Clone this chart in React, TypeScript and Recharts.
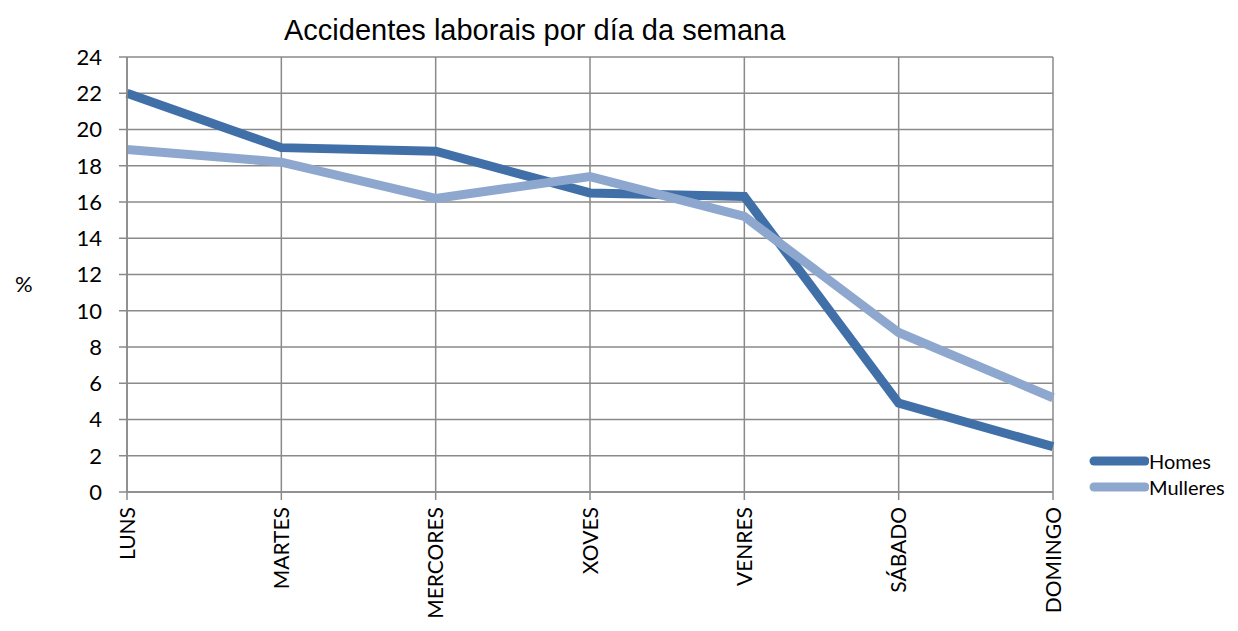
import React from 'react';
import { LineChart, Line, XAxis, YAxis, CartesianGrid, Legend } from 'recharts';

// Días da semana (eixo X)
const days = ['LUNS', 'MARTES', 'MERCORES', 'XOVES', 'VENRES', 'SÁBADO', 'DOMINGO'];
// Porcentaxe de accidentes por sexo
const homes = [22.0, 19.0, 18.8, 16.5, 16.3, 4.9, 2.5];
const mulleres = [18.9, 18.2, 16.2, 17.4, 15.2, 8.8, 5.2];
const yTicks = [0, 2, 4, 6, 8, 10, 12, 14, 16, 18, 20, 22, 24];

const seriesInfo = [
    { key: 'Homes', color: '#4170A8' },
    { key: 'Mulleres', color: '#8EA7CE' },
];

const chartData = days.map((day, i) => ({ day, Homes: homes[i], Mulleres: mulleres[i] }));

const labelFont = 'Lato, "Noto Sans", sans-serif';

const RotatedTick = (props: any) => {
    const { x, y, payload } = props;
    return (
        <g transform={`translate(${x},${y})`}>
            <text transform="rotate(-90)" textAnchor="end" dy="0.36em" fill="#000" fontSize={21} fontFamily={labelFont}>
                {payload.value}
            </text>
        </g>
    );
};

const LegendContent = () => (
    <div style={{ fontFamily: labelFont, fontSize: 20, color: '#000' }}>
        {seriesInfo.map(s => (
            <div key={s.key} style={{ display: 'flex', alignItems: 'center', height: 26 }}>
                <svg width={60} height={12}>
                    <line x1={5} y1={6} x2={56} y2={6} stroke={s.color} strokeWidth={9} strokeLinecap="round" />
                </svg>
                <span>{s.key}</span>
            </div>
        ))}
    </div>
);

const App: React.FC = () => {
    return (
        <div style={{ position: 'relative', width: 1222, height: 615 }}>
            <div
                style={{
                    position: 'absolute',
                    top: 6,
                    left: 276,
                    fontFamily: '"Liberation Sans", Arial, sans-serif',
                    fontSize: 29,
                    color: '#000',
                    whiteSpace: 'nowrap',
                }}
            >
                Accidentes laborais por día da semana
            </div>
            <LineChart width={1222} height={615} data={chartData} margin={{ top: 49, right: 177, left: 0, bottom: 11 }}>
                <CartesianGrid stroke="#8a8a8a" strokeWidth={1.5} />
                <XAxis
                    dataKey="day"
                    scale="point"
                    padding={{ left: 0, right: 0 }}
                    interval={0}
                    height={120}
                    tick={<RotatedTick />}
                    tickSize={8}
                    tickMargin={7}
                    axisLine={{ stroke: '#8a8a8a', strokeWidth: 1.5 }}
                    tickLine={{ stroke: '#8a8a8a', strokeWidth: 1.5 }}
                />
                <YAxis
                    width={119}
                    domain={[0, 24]}
                    ticks={yTicks}
                    interval={0}
                    tickSize={8}
                    tickMargin={17}
                    tick={{ fill: '#000', fontSize: 22, fontFamily: labelFont }}
                    axisLine={{ stroke: '#8a8a8a', strokeWidth: 1.5 }}
                    tickLine={{ stroke: '#8a8a8a', strokeWidth: 1.5 }}
                    label={{ value: '%', position: 'insideLeft', offset: 7, dy: 10, fill: '#000', fontSize: 22, fontFamily: labelFont }}
                />
                <Legend
                    content={<LegendContent />}
                    layout="horizontal"
                    verticalAlign="middle"
                    align="center"
                    wrapperStyle={{ top: 440, left: 1081, width: 150 }}
                />
                {seriesInfo.map(s => (
                    <Line
                        key={s.key}
                        dataKey={s.key}
                        name={s.key}
                        stroke={s.color}
                        strokeWidth={9}
                        dot={false}
                        activeDot={false}
                        isAnimationActive={false}
                    />
                ))}
            </LineChart>
        </div>
    );
};

export default App;
